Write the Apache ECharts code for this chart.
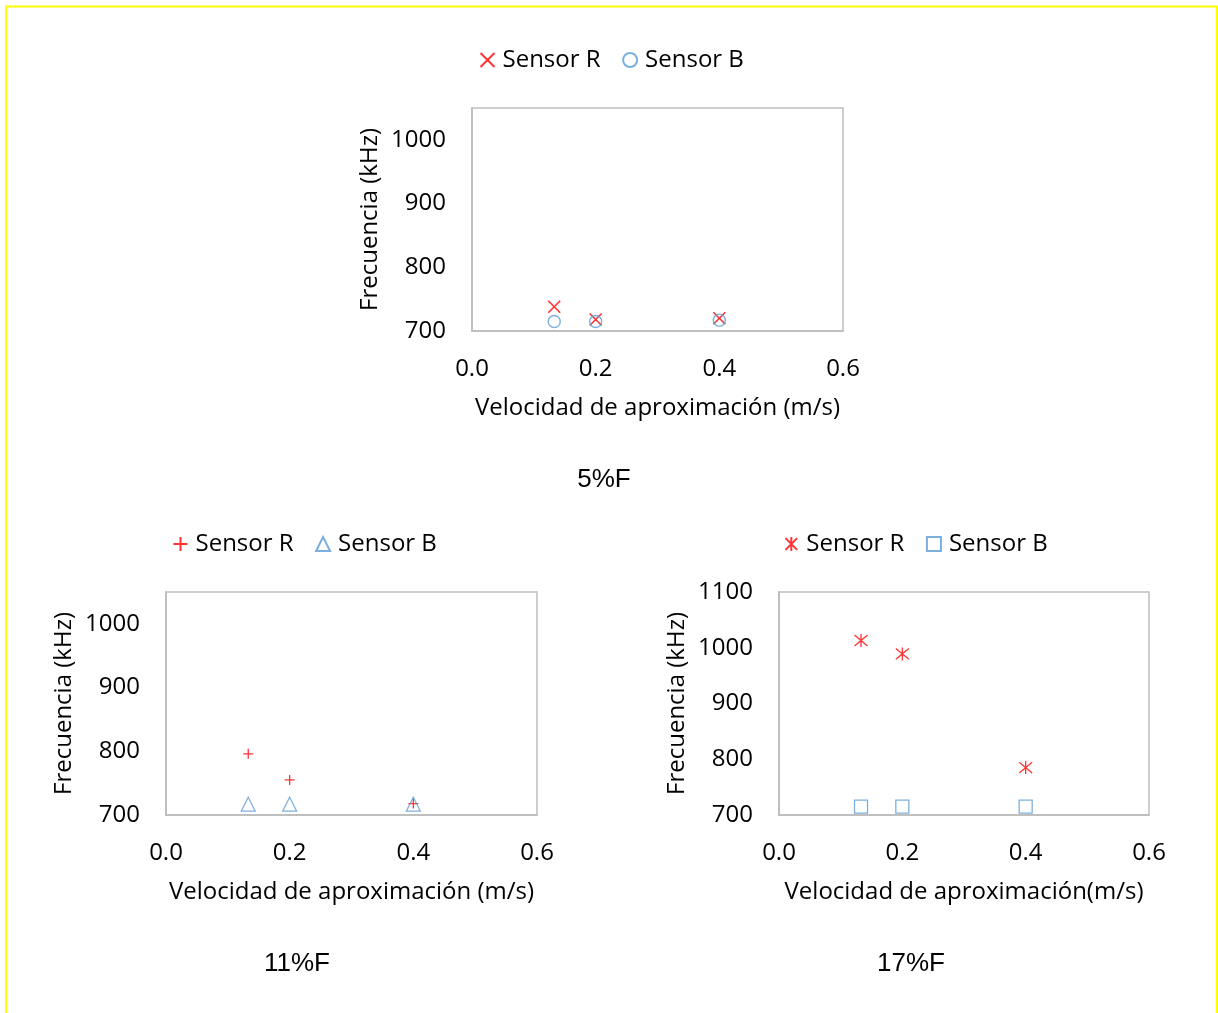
<!DOCTYPE html>
<html>
<head>
<meta charset="utf-8">
<script src="https://cdn.jsdelivr.net/npm/echarts@6/dist/echarts.min.js"></script>
<style>
  html, body { margin: 0; padding: 0; background: #fff; }
  #chart { width: 1218px; height: 1013px; }
</style>
</head>
<body>
<div id="chart"></div>
<script>
// Approach speed (m/s) shared by all three panels
const velocidad = [0.133, 0.2, 0.4];

// Frequency (kHz) per load level
const sensorR_5 = [738, 718, 720];
const sensorB_5 = [715, 715, 717];
const sensorR_11 = [796, 755, 718];
const sensorB_11 = [717, 717, 717];
const sensorR_17 = [1013, 989, 785];
const sensorB_17 = [715, 715, 715];

const panelTitles = ['5%F', '11%F', '17%F'];
const xNames = ['Velocidad de aproximación (m/s)', 'Velocidad de aproximación (m/s)', 'Velocidad de aproximación(m/s)'];
const yName = 'Frecuencia (kHz)';

const FONT = 'Open Sans';
const FS = 24;
const RED = '#ff0000';
const BLUE = '#5b9bd5';
const GRIDLINE = '#bfbfbf';

const SYM_CROSS = 'path://M0,0L10,10M10,0L0,10';
const SYM_PLUS = 'path://M5,0L5,10M0,5L10,5';
const SYM_STAR = 'path://M0,0L10,10M10,0L0,10M5,-1L5,11';

const pairs = (ys) => velocidad.map((x, i) => [x, ys[i]]);

const grids = [
  { left: 472, top: 108, width: 371, height: 223 },
  { left: 166, top: 592, width: 371, height: 223 },
  { left: 779, top: 592, width: 370, height: 223 }
];
const yMax = [1050, 1050, 1100];

const textStyle = { fontFamily: FONT, fontSize: FS, color: '#000' };

const option = {
  animation: false,
  backgroundColor: '#fff',
  textStyle: { fontFamily: FONT },
  graphic: [{
    type: 'rect',
    shape: { x: 6, y: 6.5, width: 1211, height: 1030 },
    style: { fill: 'none', stroke: '#ffff00', lineWidth: 2 },
    silent: true
  }],
  title: [
    { text: panelTitles[0], left: 599, top: 462, textAlign: 'center' },
    { text: panelTitles[1], left: 292, top: 946, textAlign: 'center' },
    { text: panelTitles[2], left: 906, top: 946, textAlign: 'center' }
  ].map(t => Object.assign(t, {
    textStyle: { fontFamily: 'Liberation Sans', fontSize: 26, fontWeight: 'normal', color: '#000' }
  })),
  legend: [
    { left: 473, top: 43, data: ['R5', 'B5'] },
    { left: 166, top: 527, data: ['R11', 'B11'] },
    { left: 778, top: 527, data: ['R17', 'B17'] }
  ].map(l => Object.assign(l, {
    itemWidth: 14, itemHeight: 14, itemGap: 20,
    formatter: (n) => 'Sensor ' + n.charAt(0),
    textStyle: Object.assign({ padding: [0, 0, 0, 3] }, textStyle)
  })),
  grid: grids.map(g => Object.assign({
    show: true, borderColor: GRIDLINE, borderWidth: 1.5, backgroundColor: 'transparent'
  }, g)),
  xAxis: grids.map((g, i) => ({
    type: 'value', gridIndex: i, min: 0, max: 0.6, interval: 0.2,
    name: xNames[i], nameLocation: 'middle', nameGap: 65,
    nameTextStyle: textStyle,
    axisLine: { show: true, lineStyle: { color: GRIDLINE, width: 2 } },
    axisTick: { show: false },
    splitLine: { show: false },
    axisLabel: Object.assign({ margin: 26, formatter: v => v.toFixed(1) }, textStyle)
  })),
  yAxis: grids.map((g, i) => ({
    type: 'value', gridIndex: i, min: 700, max: yMax[i], interval: 100,
    name: yName, nameLocation: 'middle', nameGap: 90,
    nameTextStyle: textStyle,
    axisLine: { show: true, lineStyle: { color: GRIDLINE, width: 2 } },
    axisTick: { show: false },
    splitLine: { show: false },
    axisLabel: Object.assign({ margin: 26, formatter: v => (v % 100 === 0 ? String(v) : '') }, textStyle)
  })),
  series: [
    { name: 'R5', idx: 0, data: sensorR_5, symbol: SYM_CROSS, size: 12, color: RED, bw: 1.6 },
    { name: 'B5', idx: 0, data: sensorB_5, symbol: 'circle', size: 12, color: BLUE, bw: 1.4 },
    { name: 'R11', idx: 1, data: sensorR_11, symbol: SYM_PLUS, size: 10, color: RED, bw: 1.3 },
    { name: 'B11', idx: 1, data: sensorB_11, symbol: 'triangle', size: 14, color: BLUE, bw: 1.2 },
    { name: 'R17', idx: 2, data: sensorR_17, symbol: SYM_STAR, size: 13, color: RED, bw: 1.3 },
    { name: 'B17', idx: 2, data: sensorB_17, symbol: 'rect', size: 13, color: BLUE, bw: 1.3 }
  ].map(s => ({
    name: s.name,
    type: 'scatter',
    xAxisIndex: s.idx,
    yAxisIndex: s.idx,
    data: pairs(s.data),
    symbol: s.symbol,
    symbolSize: s.size,
    itemStyle: { color: 'none', borderColor: s.color, borderWidth: s.bw },
    emphasis: { disabled: true }
  }))
};

const chart = echarts.init(document.getElementById('chart'), null, { renderer: 'canvas' });
chart.setOption(option);
</script>
</body>
</html>
